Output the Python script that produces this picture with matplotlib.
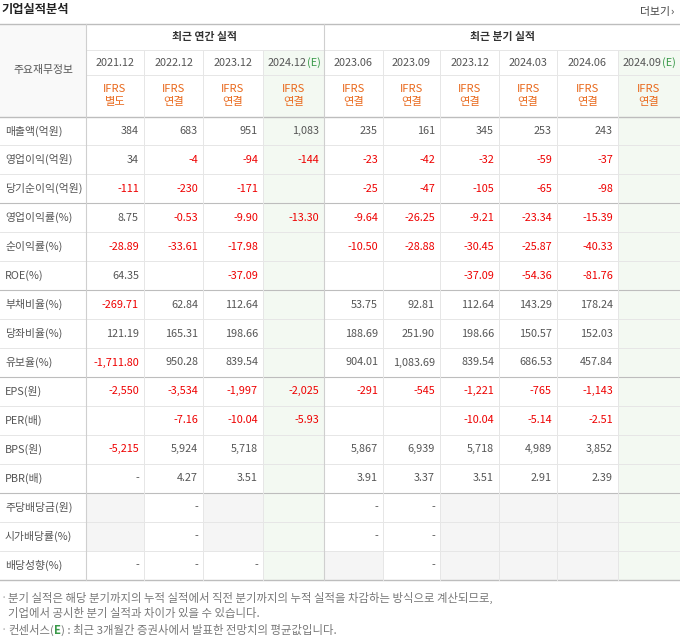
import matplotlib
matplotlib.use("Agg")
import matplotlib.pyplot as plt
from matplotlib.patches import Rectangle
from matplotlib import font_manager

names = {f.name for f in font_manager.fontManager.ttflist}
cands = [n for n in ["Noto Sans CJK KR", "Noto Sans CJK JP", "Noto Sans CJK SC", "Noto Sans CJK TC"] if n in names]
plt.rcParams['font.family'] = cands + ["DejaVu Sans"]

periods = ["2021.12", "2022.12", "2023.12", "2024.12", "2023.06", "2023.09", "2023.12", "2024.03", "2024.06", "2024.09"]
estimate = [False, False, False, True, False, False, False, False, False, True]
ifrs_type = ["별도", "연결", "연결", "연결", "연결", "연결", "연결", "연결", "연결", "연결"]
row_labels = ["매출액(억원)", "영업이익(억원)", "당기순이익(억원)", "영업이익률(%)", "순이익률(%)", "ROE(%)",
              "부채비율(%)", "당좌비율(%)", "유보율(%)", "EPS(원)", "PER(배)", "BPS(원)", "PBR(배)",
              "주당배당금(원)", "시가배당률(%)", "배당성향(%)"]
# None = blank white, "G" = blank gray
values = [
    ["384", "683", "951", "1,083", "235", "161", "345", "253", "243", None],
    ["34", "-4", "-94", "-144", "-23", "-42", "-32", "-59", "-37", None],
    ["-111", "-230", "-171", None, "-25", "-47", "-105", "-65", "-98", None],
    ["8.75", "-0.53", "-9.90", "-13.30", "-9.64", "-26.25", "-9.21", "-23.34", "-15.39", None],
    ["-28.89", "-33.61", "-17.98", None, "-10.50", "-28.88", "-30.45", "-25.87", "-40.33", None],
    ["64.35", None, "-37.09", None, None, None, "-37.09", "-54.36", "-81.76", None],
    ["-269.71", "62.84", "112.64", None, "53.75", "92.81", "112.64", "143.29", "178.24", None],
    ["121.19", "165.31", "198.66", None, "188.69", "251.90", "198.66", "150.57", "152.03", None],
    ["-1,711.80", "950.28", "839.54", None, "904.01", "1,083.69", "839.54", "686.53", "457.84", None],
    ["-2,550", "-3,534", "-1,997", "-2,025", "-291", "-545", "-1,221", "-765", "-1,143", None],
    [None, "-7.16", "-10.04", "-5.93", None, None, "-10.04", "-5.14", "-2.51", None],
    ["-5,215", "5,924", "5,718", None, "5,867", "6,939", "5,718", "4,989", "3,852", None],
    ["-", "4.27", "3.51", None, "3.91", "3.37", "3.51", "2.91", "2.39", None],
    ["G", "-", "G", None, "-", "-", "G", "G", "G", None],
    ["G", "-", "G", None, "-", "-", "G", "G", "G", None],
    ["-", "-", "-", None, "G", "-", "G", "G", "G", None],
]

W, H = 680, 639
fig = plt.figure(figsize=(W/100, H/100), dpi=100)
ax = fig.add_axes([0, 0, 1, 1])
ax.set_xlim(0, W); ax.set_ylim(H, 0); ax.axis('off')

xb = [0, 86, 144, 203, 263, 324, 383, 440, 499, 557, 618, 680]
top, h1, h2, h3 = 24, 50, 75, 116.5
rh = 28.94
nrows = len(row_labels)
bottom = h3 + rh*nrows

GREEN = "#f3f9f2"; GRAYC = "#f5f5f5"; LINE = "#e6e6e6"; DARK = "#bdbdbd"
TXT = "#555555"; RED = "#ee0000"; ORANGE = "#e96a1e"
fs = 7.8

ax.add_patch(Rectangle((0, top), 86, h3-top, color="#f9f9f9", lw=0))
for j, e in enumerate(estimate):
    x0, x1 = xb[j+1], xb[j+2]
    if e:
        ax.add_patch(Rectangle((x0, h1), x1-x0, bottom-h1, color=GREEN, lw=0))
for i, row in enumerate(values):
    for j, v in enumerate(row):
        if v == "G":
            x0, x1 = xb[j+1], xb[j+2]
            ax.add_patch(Rectangle((x0, h3+rh*i), x1-x0, rh, color=GRAYC, lw=0))

ax.text(1, 10, "기업실적분석", fontsize=8.8, fontweight='bold', color="#222222", va='center', ha='left')
ax.text(640, 12, "더보기", fontsize=7.8, color="#444444", va='center', ha='left')
ax.text(670, 12, "›", fontsize=8, color="#444444", va='center', ha='left')

ax.text(43, (top+h3)/2, "주요재무정보", fontsize=fs, color=TXT, ha='center', va='center')
ax.text((xb[1]+xb[5])/2, (top+h1)/2, "최근 연간 실적", fontsize=fs, color="#333333", ha='center', va='center', fontweight='bold')
ax.text((xb[5]+xb[11])/2, (top+h1)/2, "최근 분기 실적", fontsize=fs, color="#333333", ha='center', va='center', fontweight='bold')
for j, p in enumerate(periods):
    cx = (xb[j+1]+xb[j+2])/2
    if estimate[j]:
        ax.text(cx+13, (h1+h2)/2, p, fontsize=fs, color=TXT, ha='right', va='center')
        ax.text(cx+13, (h1+h2)/2, "(E)", fontsize=fs, color="#3a9a4a", ha='left', va='center')
    else:
        ax.text(cx, (h1+h2)/2, p, fontsize=fs, color=TXT, ha='center', va='center')
    ax.text(cx, (h2+h3)/2-6.5, "IFRS", fontsize=fs+0.3, color=ORANGE, ha='center', va='center')
    ax.text(cx, (h2+h3)/2+6.5, ifrs_type[j], fontsize=fs+0.3, color=ORANGE, ha='center', va='center')

for i, lab in enumerate(row_labels):
    cy = h3 + rh*(i+0.5)
    ax.text(5, cy, lab, fontsize=fs, color=TXT, ha='left', va='center')
    for j, v in enumerate(values[i]):
        if v is None or v == "G":
            continue
        col = RED if (v.startswith("-") and len(v) > 1) else TXT
        ax.text(xb[j+2]-5, cy, v, fontsize=fs, color=col, ha='right', va='center')

for i in range(1, nrows):
    y = h3 + rh*i
    c = DARK if i in (3, 6, 9, 13) else LINE
    ax.plot([0, W], [y, y], color=c, lw=0.8 if c == DARK else 0.7)
ax.plot([xb[1], W], [h1, h1], color=LINE, lw=0.7)
ax.plot([xb[1], W], [h2, h2], color=LINE, lw=0.7)
for y in (top, h3, bottom):
    ax.plot([0, W], [y, y], color=DARK, lw=1.0)
for k, x in enumerate(xb[1:-1], start=1):
    if k == 1 or k == 5:
        ax.plot([x, x], [top, bottom], color="#cfcfcf", lw=0.8)
    else:
        ax.plot([x, x], [h1, bottom], color=LINE, lw=0.7)

fc = "#777777"
ffs = 8.2
ax.text(1, 598, "·", fontsize=ffs, color="#aaaaaa", va='center')
ax.text(8, 598, "분기 실적은 해당 분기까지의 누적 실적에서 직전 분기까지의 누적 실적을 차감하는 방식으로 계산되므로,", fontsize=ffs, color=fc, va='center')
ax.text(8, 614, "기업에서 공시한 분기 실적과 차이가 있을 수 있습니다.", fontsize=ffs, color=fc, va='center')
ax.text(1, 630, "·", fontsize=ffs, color="#aaaaaa", va='center')
t = ax.text(8, 630, "컨센서스(", fontsize=ffs, color=fc, va='center')
fig.canvas.draw()
x1 = t.get_window_extent().transformed(ax.transData.inverted()).x1
t2 = ax.text(x1, 630, "E", fontsize=ffs, color="#3a9a4a", va='center', fontweight='bold')
fig.canvas.draw()
x2 = t2.get_window_extent().transformed(ax.transData.inverted()).x1
ax.text(x2, 630, ") : 최근 3개월간 증권사에서 발표한 전망치의 평균값입니다.", fontsize=ffs, color=fc, va='center')

fig.savefig("out.png", dpi=100)
